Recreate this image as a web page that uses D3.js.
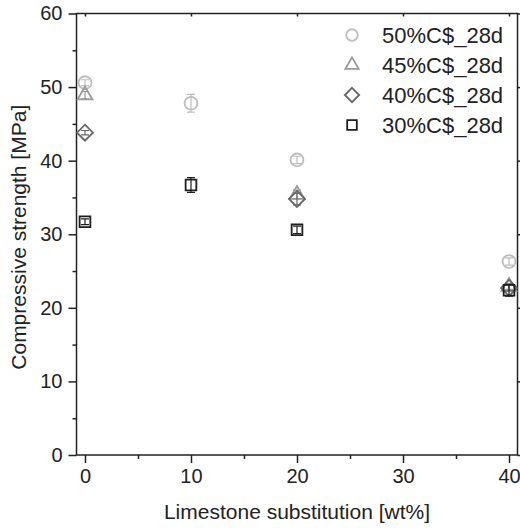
<!DOCTYPE html>
<html>
<head>
<meta charset="utf-8">
<script src="https://cdn.jsdelivr.net/npm/d3@7"></script>
<style>
  body { margin: 0; background: #fff; }
  svg { display: block; font-family: "Liberation Sans", Arial, Helvetica, sans-serif; }
</style>
</head>
<body>
<div id="chart"></div>
<script>
const width = 520;
const height = 528;

// data
const seriesNames = ["50%C$_28d", "45%C$_28d", "40%C$_28d", "30%C$_28d"];
const substitution = [0, 10, 20, 40];
const strength50 = [50.6, 47.8, 40.1, 26.3];
const error50 = [0.4, 1.2, 0.5, 0.5];
const strength45 = [48.9, null, 35.4, 22.9];
const error45 = [0.5, null, 0.6, 0.4];
const strength40 = [43.8, null, 34.8, 22.7];
const error40 = [0.3, null, 0.8, 0.4];
const strength30 = [31.7, 36.7, 30.6, 22.4];
const error30 = [0.4, 1.0, 0.5, 0.8];
const xTicks = [0, 10, 20, 30, 40];
const yTicks = [0, 10, 20, 30, 40, 50, 60];

// rotated square (Origin style diamond)
const diamond = {
  draw(context, size) {
    const r = Math.sqrt(size / 2);
    context.moveTo(0, -r);
    context.lineTo(r, 0);
    context.lineTo(0, r);
    context.lineTo(-r, 0);
    context.closePath();
  },
};

const seriesStyle = [
  { symbol: d3.symbolCircle, size: 130, color: "#bdbdbd" },
  { symbol: d3.symbolTriangle, size: 95, color: "#9a9a9a" },
  { symbol: diamond, size: 128, color: "#666666" },
  { symbol: d3.symbolSquare, size: 115, color: "#1e1e1e" },
];
const values = [strength50, strength45, strength40, strength30];
const errors = [error50, error45, error40, error30];

const series = seriesNames.map((name, i) => ({
  name,
  ...seriesStyle[i],
  points: substitution
    .map((x, j) => ({ x, y: values[i][j], e: errors[i][j] }))
    .filter((d) => d.y != null),
}));

const plot = { left: 76.5, right: 517.5, top: 13.5, bottom: 455 };

const svg = d3.select("#chart").append("svg")
  .attr("width", width)
  .attr("height", height);

const xScale = d3.scaleLinear().domain([-0.8, 40.8]).range([plot.left, plot.right]);
const yScale = d3.scaleLinear().domain([0, 60]).range([plot.bottom, plot.top]);

const axisColor = "#222";

// frame
svg.append("rect")
  .attr("x", plot.left)
  .attr("y", plot.top)
  .attr("width", plot.right - plot.left)
  .attr("height", plot.bottom - plot.top)
  .attr("fill", "none")
  .attr("stroke", axisColor)
  .attr("stroke-width", 1.5);

function styleAxis(g) {
  g.select(".domain").remove();
  g.selectAll("line").attr("stroke", axisColor).attr("stroke-width", 1.5);
  g.selectAll("text").attr("fill", "#222").style("font-size", "20px");
}

// x axis: major + minor
svg.append("g")
  .attr("transform", `translate(0,${plot.bottom})`)
  .call(d3.axisBottom(xScale).tickValues(xTicks).tickSize(8).tickPadding(6))
  .call(styleAxis);
svg.append("g")
  .attr("transform", `translate(0,${plot.bottom})`)
  .call(d3.axisBottom(xScale).tickValues(d3.range(5, 40, 10)).tickSize(4).tickFormat(""))
  .call(styleAxis);
svg.append("g")
  .attr("transform", `translate(0,${plot.top})`)
  .call(d3.axisBottom(xScale).tickValues(xTicks).tickSize(3).tickFormat(""))
  .call(styleAxis);

// y axis: major + minor
svg.append("g")
  .attr("transform", `translate(${plot.left},0)`)
  .call(d3.axisLeft(yScale).tickValues(yTicks).tickSize(8).tickPadding(6))
  .call(styleAxis);
svg.append("g")
  .attr("transform", `translate(${plot.left},0)`)
  .call(d3.axisLeft(yScale).tickValues(d3.range(5, 60, 10)).tickSize(4).tickFormat(""))
  .call(styleAxis);
svg.append("g")
  .attr("transform", `translate(${plot.right},0)`)
  .call(d3.axisRight(yScale).tickValues(yTicks).tickSize(3).tickFormat(""))
  .call(styleAxis);

// axis titles
svg.append("text")
  .attr("x", (plot.left + plot.right) / 2)
  .attr("y", 519)
  .attr("text-anchor", "middle")
  .attr("fill", "#222")
  .style("font-size", "21px")
  .text("Limestone substitution [wt%]");

svg.append("text")
  .attr("transform", `translate(26,${(plot.top + plot.bottom) / 2 + 3}) rotate(-90)`)
  .attr("text-anchor", "middle")
  .attr("fill", "#222")
  .style("font-size", "21px")
  .text("Compressive strength [MPa]");

// points with error bars
const groups = svg.append("g").selectAll("g")
  .data(series)
  .join("g");

groups.each(function (s) {
  const g = d3.select(this);
  const cap = 4;
  const pts = g.selectAll("g.pt").data(s.points).join("g").attr("class", "pt");
  pts.append("path")
    .attr("d", d3.symbol().type(s.symbol).size(s.size))
    .attr("transform", (d) => `translate(${xScale(d.x)},${yScale(d.y)})`)
    .attr("fill", "none")
    .attr("stroke", s.color)
    .attr("stroke-width", 1.8);
  pts.append("path")
    .attr("d", (d) => {
      const x = xScale(d.x);
      const y0 = yScale(d.y - d.e);
      const y1 = yScale(d.y + d.e);
      return `M${x},${y0}V${y1}M${x - cap},${y0}H${x + cap}M${x - cap},${y1}H${x + cap}`;
    })
    .attr("fill", "none")
    .attr("stroke", s.color)
    .attr("stroke-width", 1.2);
});

// legend
const legend = svg.append("g")
  .selectAll("g")
  .data(series)
  .join("g")
  .attr("transform", (d, i) => `translate(352,${35 + i * 30})`);

legend.append("path")
  .attr("d", (d) => d3.symbol().type(d.symbol).size(d.size * 0.8)())
  .attr("fill", "none")
  .attr("stroke", (d) => d.color)
  .attr("stroke-width", 1.8);

legend.append("text")
  .attr("x", 30)
  .attr("dy", "0.36em")
  .attr("fill", "#222")
  .style("font-size", "22px")
  .text((d) => d.name);
</script>
</body>
</html>
